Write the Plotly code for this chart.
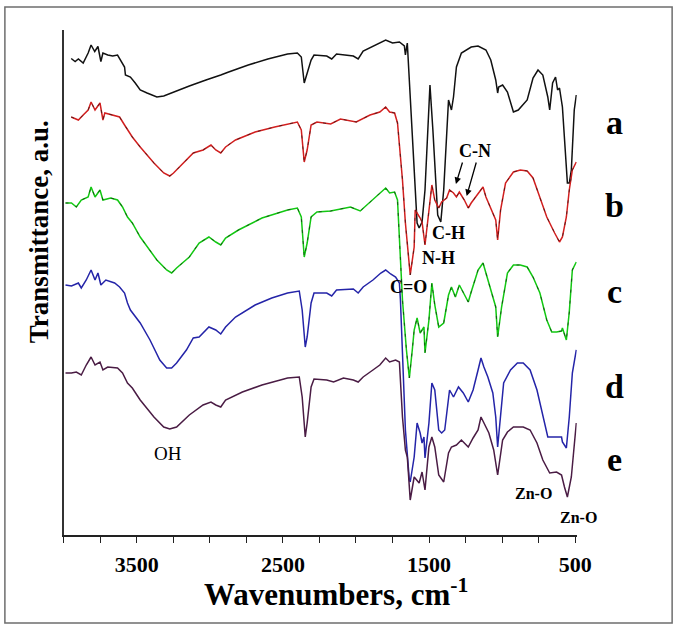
import plotly.graph_objects as go

# ---------------- data (wavenumber in cm-1, transmittance in a.u.) ----------------
wn_a = [3948, 3921, 3899, 3866, 3832, 3812, 3787, 3765, 3745, 3731, 3698, 3664, 3631, 3610, 3583, 3577, 3543, 3510,
        3476, 3429, 3362, 3315, 3248, 3140, 3026, 2959, 2925, 2871, 2737, 2603, 2468, 2401, 2374, 2354, 2334, 2307,
        2287, 2200, 2166, 2133, 2018, 1985, 1951, 1884, 1837, 1797, 1750, 1703, 1669, 1662, 1649, 1629, 1602, 1582,
        1568, 1548, 1528, 1494, 1474, 1441, 1420, 1400, 1367, 1347, 1333, 1313, 1279, 1212, 1165, 1111, 1078, 1044,
        1031, 1024, 997, 964, 923, 890, 829, 789, 755, 722, 688, 675, 655, 635, 621, 608, 588, 554, 541, 527, 507, 493]
t_a = [95.3, 94.7, 95.2, 94.4, 96.4, 98.0, 96.7, 97.7, 94.7, 96.4, 96.0, 95.8, 96.0, 95.0, 93.6, 92.0, 91.6, 90.4,
       89.0, 88.4, 87.6, 87.8, 88.6, 89.8, 91.0, 91.6, 92.0, 92.6, 94.0, 95.2, 96.2, 96.4, 95.6, 90.4, 92.4, 95.0,
       96.0, 95.8, 95.2, 96.2, 95.8, 95.2, 96.8, 97.8, 98.4, 99.0, 98.4, 98.6, 97.8, 96.0, 98.4, 87.6, 71.0, 62.4,
       61.4, 62.6, 69.0, 90.0, 81.0, 64.0, 62.6, 69.0, 87.0, 85.0, 87.6, 93.6, 96.4, 97.6, 97.8, 97.0, 95.0, 91.0,
       88.4, 89.6, 90.0, 88.6, 84.6, 85.0, 87.0, 91.4, 93.0, 92.0, 87.6, 85.0, 90.4, 91.6, 89.0, 89.4, 85.6, 70.4,
       70.4, 73.0, 85.0, 88.0]

wn_b = [3948, 3899, 3866, 3832, 3812, 3785, 3751, 3731, 3718, 3664, 3617, 3583, 3563, 3530, 3476, 3382, 3315, 3274,
        3248, 3180, 3113, 3046, 2992, 2959, 2925, 2892, 2824, 2690, 2556, 2401, 2374, 2354, 2334, 2307, 2267, 2173,
        2106, 1998, 1904, 1837, 1797, 1770, 1736, 1716, 1682, 1662, 1635, 1629, 1602, 1595, 1561, 1548, 1528, 1501,
        1481, 1461, 1434, 1414, 1380, 1360, 1333, 1313, 1293, 1259, 1232, 1212, 1165, 1131, 1111, 1078, 1044, 1031,
        1011, 977, 923, 876, 829, 789, 742, 695, 641, 608, 588, 561, 541, 520, 493]
t_b = [83.6, 83.0, 84.0, 85.0, 86.6, 85.0, 86.4, 83.0, 84.4, 84.0, 83.6, 82.0, 81.0, 79.6, 77.6, 74.4, 72.4, 71.8,
       72.4, 74.4, 76.4, 77.0, 78.0, 77.0, 76.4, 77.6, 79.0, 80.6, 81.6, 82.6, 81.0, 74.6, 77.0, 82.0, 82.6, 82.2,
       83.2, 82.6, 84.0, 84.6, 85.6, 84.6, 84.4, 82.4, 71.0, 62.4, 52.6, 52.0, 57.6, 65.0, 63.4, 62.6, 58.0, 65.6,
       70.0, 67.0, 65.4, 66.6, 67.4, 69.0, 68.4, 67.6, 68.6, 67.0, 65.4, 66.4, 68.4, 69.6, 67.6, 65.4, 63.0, 59.0,
       65.0, 70.4, 72.6, 73.0, 72.8, 71.4, 67.6, 63.6, 60.4, 58.6, 59.6, 63.6, 69.0, 73.0, 74.6]

wn_c = [3987, 3946, 3913, 3879, 3832, 3812, 3785, 3751, 3731, 3678, 3631, 3597, 3563, 3530, 3476, 3362, 3295, 3261,
        3227, 3140, 3073, 3006, 2959, 2925, 2892, 2804, 2643, 2468, 2401, 2374, 2354, 2334, 2307, 2267, 2173, 2038,
        1971, 1904, 1837, 1797, 1770, 1736, 1716, 1696, 1682, 1655, 1635, 1615, 1602, 1582, 1561, 1535, 1528, 1501,
        1481, 1461, 1434, 1400, 1367, 1347, 1320, 1293, 1266, 1232, 1212, 1165, 1131, 1111, 1078, 1044, 1031, 1004,
        964, 923, 876, 829, 789, 742, 695, 661, 628, 594, 588, 561, 541, 520, 493]
t_c = [66.4, 66.4, 65.6, 67.0, 67.6, 69.6, 67.6, 69.0, 67.0, 67.4, 67.0, 65.6, 63.6, 62.4, 59.6, 55.0, 53.0, 52.4,
       53.4, 55.6, 58.4, 59.6, 58.6, 58.0, 59.4, 61.0, 63.4, 65.0, 65.4, 63.6, 55.6, 58.4, 63.6, 64.6, 64.8, 65.6,
       64.8, 66.6, 68.4, 69.4, 68.4, 68.6, 67.0, 55.0, 47.0, 37.0, 31.4, 37.0, 41.0, 43.4, 40.4, 41.6, 36.4, 43.0,
       50.4, 46.0, 41.6, 42.4, 48.0, 49.6, 47.6, 50.0, 48.6, 46.6, 48.6, 53.0, 54.4, 52.4, 49.0, 45.6, 39.6, 45.6,
       52.4, 54.0, 54.0, 53.6, 51.6, 48.4, 43.0, 40.6, 40.6, 40.8, 41.4, 39.0, 44.6, 53.0, 54.6]

wn_d = [3987, 3946, 3899, 3879, 3845, 3812, 3785, 3765, 3745, 3711, 3651, 3617, 3583, 3563, 3543, 3476, 3409, 3342,
        3295, 3261, 3227, 3160, 3113, 3073, 3006, 2959, 2925, 2892, 2824, 2690, 2576, 2468, 2388, 2368, 2347, 2334,
        2307, 2287, 2200, 2166, 2133, 2018, 1985, 1951, 1884, 1830, 1797, 1763, 1729, 1703, 1696, 1682, 1662, 1635,
        1629, 1602, 1582, 1561, 1548, 1535, 1528, 1501, 1481, 1461, 1434, 1414, 1393, 1360, 1333, 1299, 1266, 1232,
        1199, 1165, 1145, 1125, 1098, 1064, 1044, 1031, 1011, 990, 943, 896, 856, 809, 762, 722, 688, 628, 594, 588,
        561, 541, 520, 493]
t_d = [50.0, 49.8, 50.4, 49.4, 51.0, 53.0, 51.0, 52.4, 50.0, 51.0, 50.4, 49.6, 48.4, 46.4, 45.0, 42.4, 39.0, 35.0,
       33.4, 33.4, 34.4, 37.0, 39.4, 39.6, 41.6, 41.0, 40.2, 41.6, 43.6, 46.0, 47.4, 48.4, 48.8, 45.0, 37.6, 39.6,
       46.4, 48.4, 48.4, 47.8, 49.0, 49.2, 48.4, 49.6, 51.0, 52.4, 53.0, 52.2, 51.6, 50.4, 47.0, 37.0, 21.0, 11.0,
       10.6, 15.6, 22.4, 20.4, 18.4, 19.6, 15.4, 22.4, 30.4, 29.0, 21.0, 20.4, 21.0, 29.0, 27.6, 29.6, 28.4, 26.6,
       29.0, 33.0, 35.4, 33.6, 31.6, 28.4, 23.6, 17.6, 23.6, 30.4, 33.0, 34.4, 34.4, 33.0, 29.0, 23.6, 19.6, 19.6,
       19.6, 18.6, 17.4, 23.6, 32.4, 37.0]

wn_e = [3987, 3946, 3913, 3879, 3845, 3812, 3785, 3751, 3731, 3698, 3631, 3597, 3563, 3530, 3476, 3382, 3315, 3274,
        3227, 3140, 3046, 2992, 2959, 2925, 2892, 2777, 2643, 2468, 2388, 2368, 2347, 2334, 2307, 2287, 2200, 2153,
        2086, 2018, 1985, 1951, 1884, 1837, 1797, 1770, 1729, 1703, 1682, 1662, 1649, 1635, 1629, 1602, 1568, 1548,
        1528, 1501, 1481, 1461, 1434, 1400, 1367, 1347, 1313, 1279, 1232, 1199, 1165, 1145, 1125, 1091, 1058, 1031,
        997, 964, 923, 856, 809, 762, 722, 675, 628, 594, 574, 554, 527, 507, 493]
t_e = [32.4, 32.4, 32.6, 32.0, 34.0, 35.6, 34.0, 34.6, 33.0, 33.6, 33.4, 32.4, 30.4, 29.4, 27.0, 23.6, 21.6, 21.2,
       21.6, 24.0, 26.0, 26.6, 26.0, 25.6, 27.0, 28.6, 30.0, 31.4, 31.6, 27.6, 19.6, 22.4, 29.6, 31.2, 31.0, 30.6,
       31.4, 31.0, 30.6, 31.6, 33.0, 34.0, 35.4, 34.6, 35.0, 34.6, 23.6, 17.0, 15.6, 8.4, 7.0, 11.6, 10.4, 12.6,
       9.0, 17.6, 19.6, 17.6, 12.0, 10.6, 16.4, 17.6, 18.0, 19.0, 17.6, 19.4, 21.0, 23.6, 22.4, 20.4, 17.0, 12.0,
       19.0, 20.6, 21.6, 21.6, 21.0, 18.4, 15.0, 12.4, 12.6, 12.0, 9.6, 7.6, 11.6, 19.0, 22.4]

series_names = ["a", "b", "c", "d", "e"]
series_colors = ["#111111", "#d21f1f", "#12c812", "#2424a8", "#4a1c44"]
dash_overlay = [False, True, True, False, False]
tick_vals = [4000, 3750, 3500, 3250, 3000, 2750, 2500, 2250, 2000, 1750, 1500, 1250, 1000, 750, 500]
tick_labels = ["", "", "3500", "", "", "", "2500", "", "", "", "1500", "", "", "", "500"]

# ---------------- layout helpers (pixel positions of the 693x631 canvas) ----------------
W, H = 693, 631
def fx(x):
    return x / W
def fy(y):
    return 1 - y / H

SERIF = "Liberation Serif, Times New Roman, serif"

fig = go.Figure()
xs = [wn_a, wn_b, wn_c, wn_d, wn_e]
ys = [t_a, t_b, t_c, t_d, t_e]
for name, x, y, col, ov in zip(series_names, xs, ys, series_colors, dash_overlay):
    fig.add_trace(go.Scatter(x=x, y=y, mode="lines", name=name,
                             line=dict(color=col, width=1.5), hoverinfo="skip"))
    if ov:
        fig.add_trace(go.Scatter(x=x, y=y, mode="lines", name=name + "_d",
                                 line=dict(color="rgba(20,20,20,0.7)", width=0.9, dash="3px,8px"),
                                 hoverinfo="skip"))

fig.update_layout(
    width=W, height=H,
    margin=dict(l=0, r=0, t=0, b=0),
    paper_bgcolor="white", plot_bgcolor="white",
    showlegend=False,
    xaxis=dict(domain=[fx(65), fx(589.5)], range=[4000, 490], anchor="y",
               showline=True, linecolor="#222", linewidth=1.5,
               ticks="outside", ticklen=6, tickwidth=1.3, tickcolor="#222",
               tickvals=tick_vals, ticktext=tick_labels, ticklabelstandoff=3,
               tickfont=dict(family=SERIF, size=22, color="black", weight="bold"),
               showgrid=False, zeroline=False),
    yaxis=dict(domain=[fy(535), fy(30)], range=[0, 101], anchor="x",
               showline=True, linecolor="#333", linewidth=1.5,
               ticks="", showticklabels=False, showgrid=False, zeroline=False),
)

ann = []
def txt(x, y, s, size, bold=True, angle=0):
    ann.append(dict(x=fx(x), y=fy(y), xref="paper", yref="paper", text=("<b>%s</b>" % s) if bold else s,
                    showarrow=False, textangle=angle, xanchor="center", yanchor="middle",
                    font=dict(family=SERIF, size=size, color="black")))

txt(40, 232, "Transmittance, a.u.", 27, angle=-90)
txt(343, 592, "Wavenumbers, cm<sup>-1</sup>", 31)
for lab, yy in zip(series_names, [122, 205, 292, 386, 459]):
    txt(628, yy, lab, 34)
txt(172, 453, "OH", 19, bold=False)
txt(418, 287, "C=O", 18)
txt(448, 258, "N-H", 18)
txt(458, 233, "C-H", 18)
txt(485, 151, "C-N", 18)
txt(545, 493, "Zn-O", 16)
txt(591, 517, "Zn-O", 16)

for (hx, hy, tx, ty) in [(466, 184, 473, 161), (477, 196, 487, 161)]:
    ann.append(dict(x=fx(hx), y=fy(hy), xref="paper", yref="paper", text="",
                    showarrow=True, ax=tx - hx, ay=ty - hy, axref="pixel", ayref="pixel",
                    arrowhead=2, arrowsize=1, arrowwidth=1.3, arrowcolor="black"))
fig.update_layout(annotations=ann)

fig.add_shape(type="rect", xref="paper", yref="paper", x0=fx(5), x1=fx(687), y0=fy(623), y1=fy(7),
              line=dict(color="#6e6e6e", width=1.5), fillcolor="rgba(0,0,0,0)")

fig.write_html("out.html", config={"displayModeBar": False},
               post_script="document.body.style.margin='0';")
